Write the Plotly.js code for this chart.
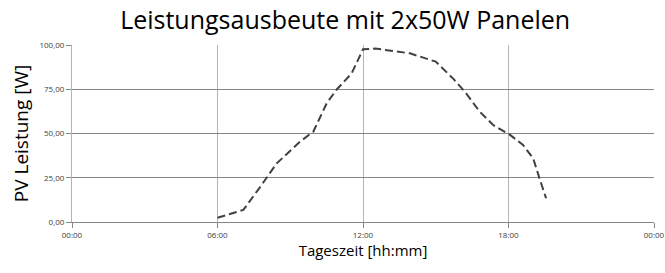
<!DOCTYPE html>
<html><head><meta charset="utf-8">
<script src="https://cdn.plot.ly/plotly-3.0.1.min.js"></script>
<style>body{margin:0;background:#fff}#c{width:665px;height:273px}</style>
</head><body><div id="c"></div>
<script>
var times = ["06:00","07:04","07:49","08:26","09:24","09:57","10:30","10:54","11:32","12:00","12:30","13:56","15:00","15:43","16:12","16:49","17:22","18:04","18:36","19:01","19:18","19:33"];
var power = [2.4,6.8,20.9,33,45.4,51,67,74.6,84,97.6,98,95.3,90.6,81,73.6,62.3,54.8,49.2,43.5,36,23.7,13.4];
var xTickVals = ["2000-01-01 00:00","2000-01-01 06:00","2000-01-01 12:00","2000-01-01 18:00","2000-01-02 00:00"];
var xTickText = ["00:00","06:00","12:00","18:00","00:00"];
var yTickVals = [0,25,50,75,100];
var yTickText = ["0,00","25,00","50,00","75,00","100,00"];

var x = times.map(function(t){return "2000-01-01 " + t;});
var trace = {x:x, y:power, type:"scatter", mode:"lines",
  line:{color:"#404040", width:2, dash:"8px,4px", shape:"linear"},
  hoverinfo:"none"};
var layout = {
  width:665, height:273,
  margin:{l:72, r:11, t:45, b:51},
  paper_bgcolor:"#fff", plot_bgcolor:"#fff",
  showlegend:false,
  title:{text:"Leistungsausbeute mit 2x50W Panelen", xref:"container", x:0.519, xanchor:"center", y:0.925, yanchor:"middle",
    font:{family:"Open Sans", size:25, color:"#000"}},
  xaxis:{type:"date", range:[xTickVals[0], xTickVals[4]], tickvals:xTickVals, ticktext:xTickText,
    showgrid:true, gridcolor:"#b4b4b4", gridwidth:1, zeroline:false,
    showline:true, linecolor:"#868686", linewidth:1, ticks:"outside", ticklen:5, tickcolor:"#868686",
    tickfont:{family:"Open Sans", size:8, color:"#404040"},
    title:{text:"Tageszeit [hh:mm]", font:{family:"Open Sans", size:15, color:"#000"}, standoff:6}},
  yaxis:{range:[0,100], tickvals:yTickVals, ticktext:yTickText,
    showgrid:true, gridcolor:"#868686", gridwidth:1, zeroline:false,
    showline:true, linecolor:"#b4b4b4", linewidth:1, ticks:"outside", ticklen:5, tickcolor:"#868686",
    tickfont:{family:"Open Sans", size:8, color:"#404040"},
    title:{text:"PV Leistung [W]", font:{family:"Open Sans", size:19, color:"#000"}, standoff:5}}
};
Plotly.newPlot("c", [trace], layout, {staticPlot:true, displayModeBar:false});
</script></body></html>
